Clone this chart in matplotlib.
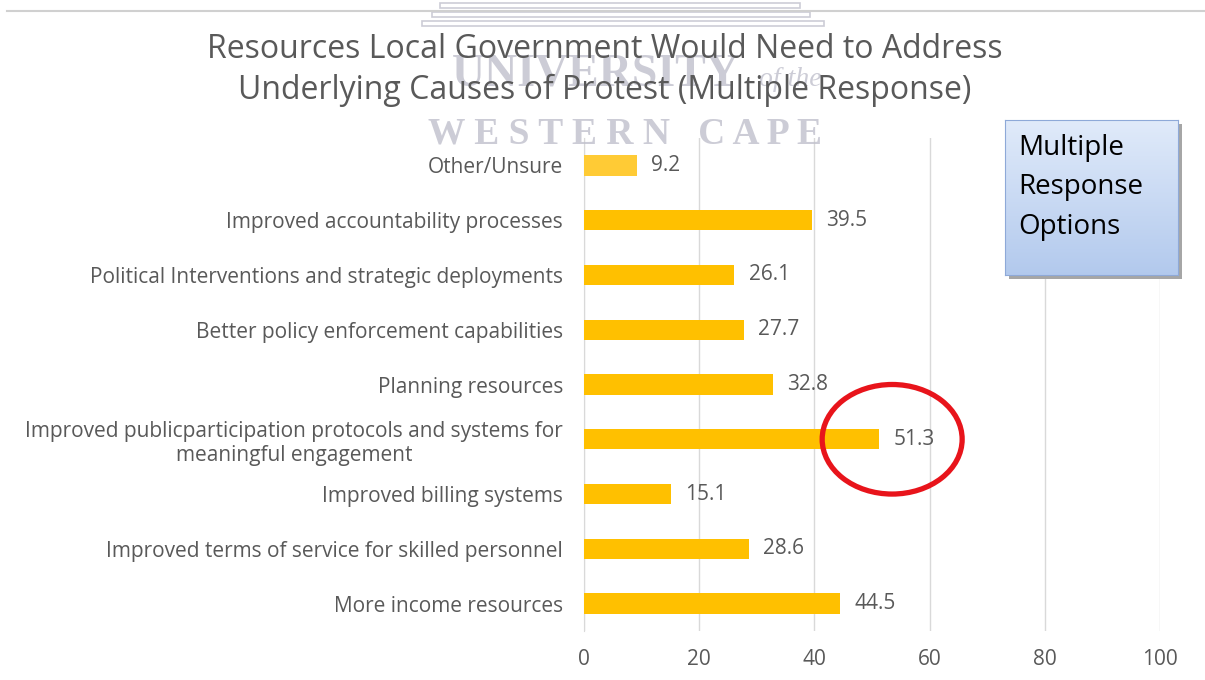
import matplotlib.pyplot as plt
from matplotlib.patches import Ellipse, Rectangle
import numpy as np

plt.rcParams['font.family'] = ['Open Sans', 'DejaVu Sans']

# Categories bottom -> top
categories = [
    "More income resources",
    "Improved terms of service for skilled personnel",
    "Improved billing systems",
    "Improved publicparticipation protocols and systems for\nmeaningful engagement",
    "Planning resources",
    "Better policy enforcement capabilities",
    "Political Interventions and strategic deployments",
    "Improved accountability processes",
    "Other/Unsure",
]
values = [44.5, 28.6, 15.1, 51.3, 32.8, 27.7, 26.1, 39.5, 9.2]
x_ticks = [0, 20, 40, 60, 80, 100]

TEXT = "#595959"
BAR = "#FFC000"
W, H = 1205, 680


def fx(px):
    return px / W


def fy(py):
    return 1 - py / H


fig = plt.figure(figsize=(12.05, 6.8), dpi=100)
ax = fig.add_axes([fx(584), fy(631), 576 / W, 493 / H])

y = np.arange(len(categories))
colors = [BAR] * (len(categories) - 1) + ["#FFCB35"]
ax.barh(y, values, height=0.37, color=colors, zorder=3)
for yi, v in zip(y, values):
    ax.text(v + 2.5, yi, f"{v:.1f}", va="center", ha="left",
            fontsize=15, color=TEXT, zorder=4)

ax.set_xlim(0, 100)
ax.set_ylim(-0.5, len(categories) - 0.5)
ax.set_xticks(x_ticks)
ax.set_yticks(y)
ax.set_yticklabels(categories, fontsize=15, color=TEXT, linespacing=1.2)
for lbl in ax.get_yticklabels():
    lbl.set_multialignment("center")
ax.tick_params(axis="x", labelsize=15, colors=TEXT, length=0, pad=13)
ax.tick_params(axis="y", length=0, pad=15)

ax.grid(axis="x", color="#d9d9d9", linewidth=1, zorder=0)
for s in ["top", "right", "bottom"]:
    ax.spines[s].set_visible(False)
ax.spines["left"].set_color("#d9d9d9")
ax.spines["left"].set_zorder(1)

# highlight ring round the largest bar label
ax.add_patch(Ellipse((53.5, 3), 24.3, 2.0, fill=False, edgecolor="#e8141b",
                     linewidth=3.8, clip_on=False, zorder=5))

# faint university watermark
wm = "#c0c0cc"
fig.add_artist(plt.Line2D([fx(7), 1], [fy(11)] * 2, color="#d0d0d0",
                          linewidth=1.5, transform=fig.transFigure))
for x0, x1, yy in [(440, 800, 3), (432, 810, 12), (422, 824, 21)]:
    fig.add_artist(Rectangle((fx(x0), fy(yy + 5)), (x1 - x0) / W, 5 / H,
                             transform=fig.transFigure, fill=False,
                             edgecolor=wm, linewidth=1.2, alpha=0.8))
fig.text(fx(596), fy(74), "UNIVERSITY", ha="center", va="center",
         fontsize=33, family="Liberation Serif", weight="bold", color=wm, alpha=0.8)
fig.text(fx(790), fy(80), "of the", ha="center", va="center",
         fontsize=20, family="Liberation Serif", style="italic", color=wm, alpha=0.8)
fig.text(fx(625), fy(134), "W E S T E R N   C A P E", ha="center", va="center",
         fontsize=27, family="Liberation Serif", weight="bold", color=wm, alpha=0.8)

# title
fig.text(fx(605), fy(50), "Resources Local Government Would Need to Address",
         ha="center", va="center", fontsize=23, color=TEXT)
fig.text(fx(605), fy(90), "Underlying Causes of Protest (Multiple Response)",
         ha="center", va="center", fontsize=23, color=TEXT)

# callout box with shadow and vertical gradient
shadow = fig.add_axes([fx(1009), fy(279), 173 / W, 155 / H], zorder=4)
shadow.set_axis_off()
shadow.add_patch(Rectangle((0, 0), 1, 1, facecolor="#a6a6a6", edgecolor="none"))
box = fig.add_axes([fx(1005), fy(275), 173 / W, 155 / H], zorder=5)
grad = np.linspace(0, 1, 100).reshape(-1, 1)
top = np.array([0.88, 0.92, 0.98])
bottom = np.array([0.70, 0.79, 0.93])
img = top + grad[..., None] * (bottom - top)
box.imshow(img, aspect="auto", extent=(0, 1, 0, 1), origin="upper")
box.set_xticks([])
box.set_yticks([])
for s in box.spines.values():
    s.set_color("#8ea9d8")
for i, word in enumerate(["Multiple", "Response", "Options"]):
    box.text(0.075, 0.82 - i * 0.255, word, ha="left", va="center",
             fontsize=20, color="black", transform=box.transAxes)

fig.savefig("out.png", dpi=100)
